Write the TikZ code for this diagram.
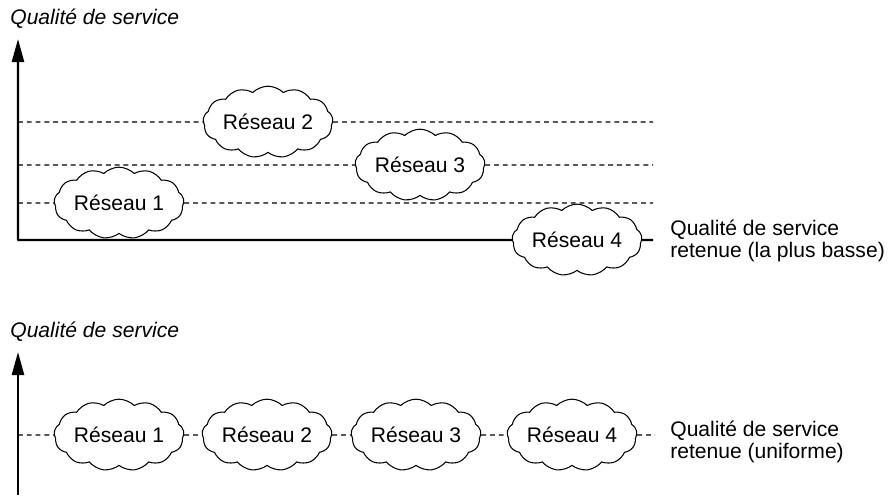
\documentclass[tikz,border=0pt]{standalone}
\usepackage{fontspec}
\setmainfont{Liberation Sans}
\usetikzlibrary{arrows.meta,shapes.symbols,positioning}
\tikzset{
  reseau/.style={cloud, draw, fill=white, cloud puffs=13, cloud puff arc=90, aspect=2.1,
    inner sep=0pt, minimum width=2.4cm, minimum height=1.2cm, line width=0.6pt,
    font=\fontsize{12}{14}\selectfont},
  niveau/.style={dash pattern=on 2.8pt off 2.2pt, line width=0.7pt},
  axe/.style={line width=1.4pt},
  pointe/.style={{Triangle[length=0.46cm,width=0.24cm]}-},
  titre/.style={font=\fontsize{12}{14}\selectfont\itshape, anchor=west, inner sep=0pt},
  legende/.style={font=\fontsize{12}{12.5}\selectfont, align=left, anchor=west, inner sep=0pt},
}
\begin{document}
\begin{tikzpicture}[x=0.02cm, y=-0.02cm, line join=round]
\useasboundingbox (0,0) rectangle (889,495);
% niveaux differents
\node[titre] (qs1) at (10,19) {Qualité de service};
\coordinate (h1) at (18,39);
\coordinate (o1) at (18,240);
\coordinate (e1) at (653,240);
\node[reseau] (r1) at (119,203) {Réseau 1};
\node[reseau] (r2) at (268,122) {Réseau 2};
\node[reseau] (r3) at (420,165) {Réseau 3};
\node[reseau] (r4) at (577,240) {Réseau 4};
\foreach \r in {r1,r2,r3} {
  \coordinate (\r g) at (o1 |- \r);
  \coordinate (\r d) at (e1 |- \r);
  \draw[niveau] (\r g) -- (\r.west);
  \draw[niveau] (\r.east) -- (\r d);
}
\draw[axe, pointe] (h1) -- (o1) -- (r4.west);
\draw[axe] (r4.east) -- (e1);
\node[legende] (ret1) at (670,241) {Qualité de service\\retenue (la plus basse)};
% niveau uniforme
\node[titre] (qs2) at (10,332) {Qualité de service};
\coordinate (h2) at (18,352);
\coordinate (o2) at (18,495);
\coordinate (e2) at (655,435);
\node[reseau] (s1) at (119,435) {Réseau 1};
\node[reseau] (s2) at (267,435) {Réseau 2};
\node[reseau] (s3) at (416,435) {Réseau 3};
\node[reseau] (s4) at (572,435) {Réseau 4};
\draw[axe, pointe] (h2) -- (o2);
\draw[niveau] (o2 |- s1) -- (s1.west);
\draw[niveau] (s1.east) -- (s2.west);
\draw[niveau] (s2.east) -- (s3.west);
\draw[niveau] (s3.east) -- (s4.west);
\draw[niveau] (s4.east) -- (e2);
\node[legende] (ret2) at (670,442) {Qualité de service\\retenue (uniforme)};
\end{tikzpicture}
\end{document}
